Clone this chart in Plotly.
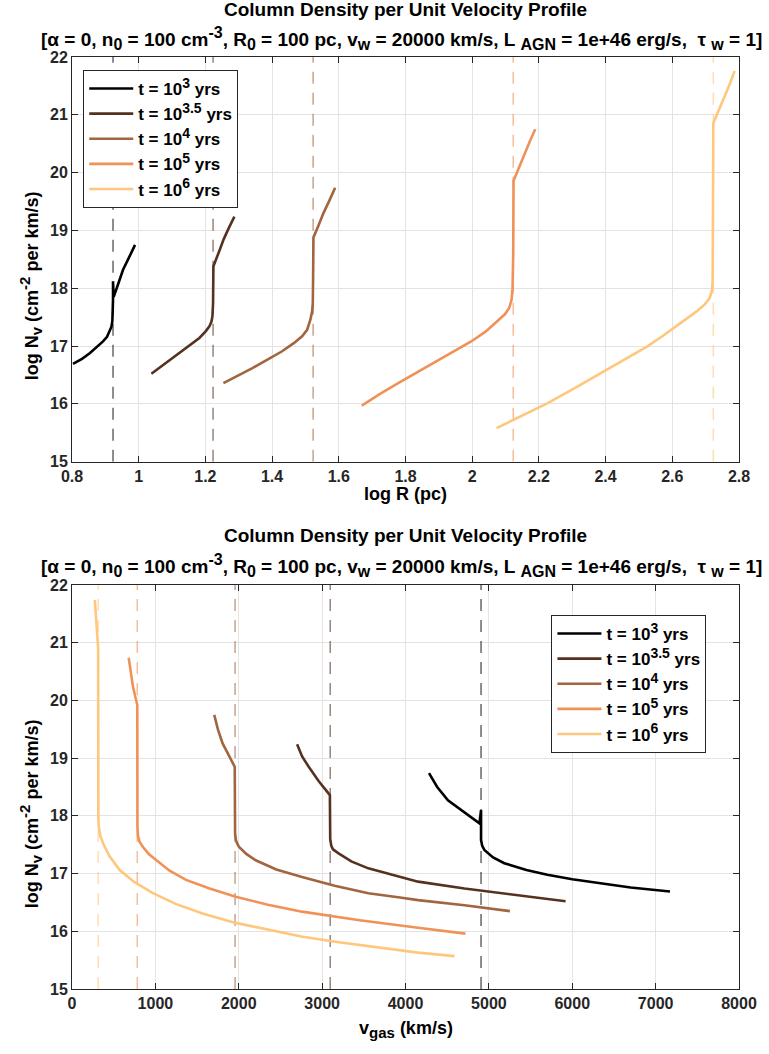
import plotly.graph_objects as go

# ---------------- data ----------------
labels = ["t = 10<sup>3</sup> yrs", "t = 10<sup>3.5</sup> yrs", "t = 10<sup>4</sup> yrs",
          "t = 10<sup>5</sup> yrs", "t = 10<sup>6</sup> yrs"]
colors = ["#000000", "#55321f", "#a2653f", "#f09258", "#ffc77d"]

# Top panel: log R (pc) vs log N_v
logR_1e3 = [0.803, 0.830, 0.854, 0.875, 0.893, 0.905, 0.913, 0.918, 0.921, 0.922, 0.923, 0.923,
            0.925, 0.940, 0.953, 0.970, 0.989]
logN_1e3 = [16.69, 16.78, 16.88, 16.98, 17.08, 17.16, 17.25, 17.33, 17.43, 17.55, 17.80, 18.12,
            17.85, 18.10, 18.32, 18.52, 18.75]
logR_1e35 = [1.038, 1.080, 1.122, 1.155, 1.182, 1.200, 1.212, 1.218, 1.221, 1.223, 1.224,
             1.240, 1.255, 1.270, 1.287]
logN_1e35 = [16.52, 16.70, 16.88, 17.02, 17.14, 17.25, 17.34, 17.42, 17.51, 17.74, 18.38,
             18.62, 18.85, 19.04, 19.24]
logR_1e4 = [1.254, 1.300, 1.341, 1.390, 1.430, 1.465, 1.490, 1.505, 1.515, 1.520, 1.522, 1.523,
            1.524, 1.540, 1.554, 1.572, 1.589]
logN_1e4 = [16.36, 16.49, 16.62, 16.78, 16.91, 17.05, 17.17, 17.28, 17.46, 17.60, 17.74, 18.20,
            18.88, 19.10, 19.30, 19.52, 19.74]
logR_1e5 = [1.669, 1.720, 1.778, 1.830, 1.878, 1.940, 1.997, 2.040, 2.076, 2.098, 2.111, 2.118,
            2.121, 2.123, 2.124, 2.140, 2.156, 2.172, 2.189]
logN_1e5 = [15.97, 16.16, 16.36, 16.53, 16.68, 16.88, 17.08, 17.25, 17.43, 17.55, 17.66, 17.80,
            18.00, 18.58, 19.86, 20.09, 20.31, 20.53, 20.75]
logR_1e6 = [2.073, 2.150, 2.225, 2.310, 2.404, 2.470, 2.524, 2.570, 2.603, 2.640, 2.673, 2.697,
            2.712, 2.719, 2.721, 2.723, 2.737, 2.752, 2.770, 2.787]
logN_1e6 = [15.58, 15.80, 16.01, 16.28, 16.59, 16.81, 16.99, 17.17, 17.31, 17.46, 17.60, 17.72,
            17.83, 17.97, 18.12, 20.86, 21.05, 21.24, 21.50, 21.76]
logR_shell = [0.923, 1.223, 1.523, 2.123, 2.723]

# Bottom panel: v_gas (km/s) vs log N_v
v_1e3 = [4282, 4380, 4509, 4700, 4887, 4906, 4906, 4920, 4946, 5050, 5185, 5450, 5701, 6000,
         6298, 6700, 7172]
vN_1e3 = [18.74, 18.50, 18.27, 18.06, 17.87, 18.10, 17.58, 17.48, 17.41, 17.28, 17.18, 17.06,
          16.98, 16.90, 16.84, 16.76, 16.69]
v_1e35 = [2700, 2760, 2839, 2960, 3093, 3097, 3110, 3130, 3197, 3350, 3554, 3912, 4151, 4708,
          5502, 5920]
vN_1e35 = [19.24, 19.03, 18.85, 18.60, 18.36, 17.60, 17.48, 17.42, 17.35, 17.21, 17.09, 16.95,
           16.86, 16.74, 16.60, 16.52]
v_1e4 = [1706, 1750, 1805, 1880, 1952, 1956, 1966, 1985, 2004, 2090, 2203, 2450, 2759, 3150,
         3554, 3912, 4151, 4708, 5252]
vN_1e4 = [19.75, 19.50, 19.26, 19.05, 18.85, 17.70, 17.58, 17.51, 17.46, 17.34, 17.23, 17.07,
          16.94, 16.79, 16.66, 16.59, 16.54, 16.45, 16.35]
v_1e5 = [680, 705, 731, 760, 783, 785, 792, 810, 851, 920, 1010, 1170, 1368, 1650, 1964, 2350,
         2759, 3450, 4151, 4719]
vN_1e5 = [20.74, 20.47, 20.24, 20.06, 19.92, 17.80, 17.65, 17.55, 17.46, 17.34, 17.23, 17.05,
          16.89, 16.74, 16.60, 16.46, 16.34, 16.19, 16.06, 15.96]
v_1e6 = [274, 295, 314, 316, 322, 340, 374, 450, 572, 750, 970, 1250, 1566, 1950, 2362, 2750,
         3157, 3650, 4151, 4588]
vN_1e6 = [21.74, 21.30, 20.90, 17.95, 17.80, 17.65, 17.52, 17.30, 17.06, 16.85, 16.66, 16.47,
          16.31, 16.15, 16.02, 15.91, 15.82, 15.72, 15.63, 15.57]
v_shell = [4906, 3097, 1956, 783, 314]

top_x = [logR_1e3, logR_1e35, logR_1e4, logR_1e5, logR_1e6]
top_y = [logN_1e3, logN_1e35, logN_1e4, logN_1e5, logN_1e6]
bot_x = [v_1e3, v_1e35, v_1e4, v_1e5, v_1e6]
bot_y = [vN_1e3, vN_1e35, vN_1e4, vN_1e5, vN_1e6]

yticks = [15, 16, 17, 18, 19, 20, 21, 22]
top_xticks = [0.8, 1.0, 1.2, 1.4, 1.6, 1.8, 2.0, 2.2, 2.4, 2.6, 2.8]
top_xticktext = ["0.8", "1", "1.2", "1.4", "1.6", "1.8", "2", "2.2", "2.4", "2.6", "2.8"]
bot_xticks = [0, 1000, 2000, 3000, 4000, 5000, 6000, 7000, 8000]

# ---------------- figure ----------------
FONT = "Liberation Sans, Arial, sans-serif"
fig = go.Figure()


def rgba(hexc, a):
    h = hexc.lstrip("#")
    return "rgba(%d,%d,%d,%.2f)" % (int(h[0:2], 16), int(h[2:4], 16), int(h[4:6], 16), a)


def big(tag, s, size):
    return "<%s><span style='font-size:%dpx'>%s</span></%s>" % (tag, size, s, tag)


leg_labels = [l.replace("<sup>", "<sup><span style='font-size:14px'>").replace("</sup>", "</span></sup>")
              for l in labels]

for i in range(5):
    fig.add_trace(go.Scatter(x=[logR_shell[i], logR_shell[i]], y=[15, 22], mode="lines",
                             line=dict(color=rgba(colors[i], 0.6), width=1.5, dash="12px,9px"),
                             showlegend=False, hoverinfo="skip", xaxis="x", yaxis="y"))
    fig.add_trace(go.Scatter(x=[v_shell[i], v_shell[i]], y=[15, 22], mode="lines",
                             line=dict(color=rgba(colors[i], 0.6), width=1.5, dash="12px,9px"),
                             showlegend=False, hoverinfo="skip", xaxis="x2", yaxis="y2"))

for i in range(5):
    fig.add_trace(go.Scatter(x=top_x[i], y=top_y[i], mode="lines", name=leg_labels[i],
                             line=dict(color=colors[i], width=2.6), xaxis="x", yaxis="y",
                             legend="legend"))
for i in range(5):
    fig.add_trace(go.Scatter(x=bot_x[i], y=bot_y[i], mode="lines", name=leg_labels[i],
                             line=dict(color=colors[i], width=2.6), xaxis="x2", yaxis="y2",
                             legend="legend2"))

axis_common = dict(showgrid=True, gridcolor="#e3e3e3", gridwidth=1, zeroline=False,
                   showline=True, linecolor="#262626", linewidth=1, mirror="ticks",
                   ticks="inside", ticklen=6, tickcolor="#262626",
                   tickfont=dict(family=FONT, size=16, color="#262626", weight="bold"))

top_dom = [(989 - 461.7) / 932, 1.0]
bot_dom = [0.0, (989 - 585) / 932]

title_font = dict(family=FONT, size=19, color="#000000", weight="bold")
label_font = dict(family=FONT, size=18, color="#000000", weight="bold")
leg_font = dict(family=FONT, size=17, color="#000000", weight="bold")

fig.update_layout(
    width=769, height=1054,
    margin=dict(l=72, r=26, t=57, b=65),
    paper_bgcolor="white", plot_bgcolor="white",
    font=dict(family=FONT, color="#000000"),
    xaxis=dict(domain=[0, 1], range=[0.8, 2.8], tickvals=top_xticks, ticktext=top_xticktext,
               anchor="y", **axis_common),
    yaxis=dict(domain=top_dom, range=[15, 22], tickvals=yticks, anchor="x", **axis_common),
    xaxis2=dict(domain=[0, 1], range=[0, 8000], tickvals=bot_xticks,
                ticktext=[str(t) for t in bot_xticks], anchor="y2", **axis_common),
    yaxis2=dict(domain=bot_dom, range=[15, 22], tickvals=yticks, anchor="x2", **axis_common),
    legend=dict(x=(83.3 - 72) / 671, y=(989 - 70) / 932, xanchor="left", yanchor="top",
                bgcolor="white", bordercolor="#262626", borderwidth=1, font=leg_font,
                itemwidth=44),
    legend2=dict(x=(554.3 - 72) / 671, y=(989 - 615) / 932, xanchor="left", yanchor="top",
                 bgcolor="white", bordercolor="#262626", borderwidth=1, font=leg_font,
                 itemwidth=44),
    showlegend=True,
)

title1 = "Column Density per Unit Velocity Profile"
title2 = ("[α = 0, n" + big("sub", "0", 16) + " = 100 cm" + big("sup", "-3", 16) +
          ", R" + big("sub", "0", 16) + " = 100 pc, v" + big("sub", "w", 16) +
          " = 20000 km/s, L " + big("sub", "AGN", 16) + " = 1e+46 erg/s,  τ " +
          big("sub", "w", 16) + " = 1]")
ylab = "log N" + big("sub", "v", 15) + " (cm" + big("sup", "-2", 15) + " per km/s)"
xlab2 = "v" + big("sub", "gas", 15) + " (km/s)"

ann = []
for y1, y2, xl, xly, yly in [(9, 38, "log R (pc)", 494, 286), (535, 565, xlab2, 1029, 814)]:
    ann.append(dict(text=title1, x=407.5 / 769, y=1 - y1 / 1054, font=title_font))
    ann.append(dict(text=title2, x=403 / 769, y=1 - y2 / 1054, font=title_font))
    ann.append(dict(text=xl, x=407.5 / 769, y=1 - xly / 1054, font=label_font))
    ann.append(dict(text=ylab, x=30 / 769, y=1 - yly / 1054, textangle=-90, font=label_font))

plot_w = 769 - 72 - 26
plot_h = 1054 - 57 - 65
for a in ann:
    px = a["x"] * 769
    py = (1 - a["y"]) * 1054
    a["x"] = (px - 72) / plot_w
    a["y"] = (989 - py) / plot_h
    a.update(xref="paper", yref="paper", xanchor="center", yanchor="middle", showarrow=False)
fig.update_layout(annotations=ann)

fig.write_html("out.html")
